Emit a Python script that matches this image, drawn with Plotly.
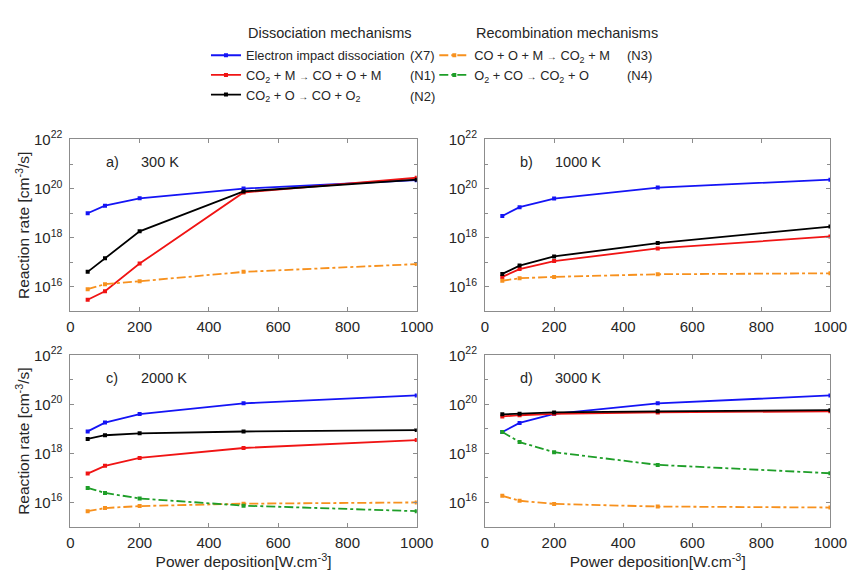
import plotly.graph_objects as go

W, H = 865, 576

power = [50, 100, 200, 500, 1000]
panel_tags = ["a)", "b)", "c)", "d)"]
temps = ["300 K", "1000 K", "2000 K", "3000 K"]

# Reaction rates [cm^-3/s], one list per panel
x7_a = [9.8e18, 2.0e19, 4.0e19, 1.0e20, 2.2e20]
n1_a = [2.9e15, 6.5e15, 8.7e16, 6.9e19, 2.75e20]
n2_a = [4.0e16, 1.45e17, 1.8e18, 7.6e19, 2.3e20]
n3_a = [7.9e15, 1.26e16, 1.66e16, 4.0e16, 8.3e16]
n4_a = None

x7_b = [7.6e18, 1.74e19, 3.9e19, 1.1e20, 2.3e20]
n1_b = [2.5e16, 5.2e16, 1.1e17, 3.6e17, 1.12e18]
n2_b = [3.3e16, 7.2e16, 1.7e17, 6.0e17, 2.8e18]
n3_b = [1.74e16, 2.2e16, 2.5e16, 3.2e16, 3.5e16]
n4_b = None

x7_c = [7.9e18, 1.8e19, 4.0e19, 1.1e20, 2.3e20]
n1_c = [1.5e17, 3.1e17, 6.5e17, 1.66e18, 3.5e18]
n2_c = [3.9e18, 5.5e18, 6.6e18, 7.8e18, 8.9e18]
n3_c = [4.4e15, 5.9e15, 7.1e15, 8.9e15, 1.0e16]
n4_c = [3.9e16, 2.45e16, 1.45e16, 7.4e15, 4.4e15]

x7_d = [7.4e18, 1.74e19, 4.1e19, 1.1e20, 2.3e20]
n1_d = [3.2e19, 3.6e19, 4.1e19, 4.7e19, 5.2e19]
n2_d = [3.9e19, 4.1e19, 4.7e19, 5.2e19, 5.8e19]
n3_d = [1.86e16, 1.17e16, 8.7e15, 6.8e15, 6.2e15]
n4_d = [7.4e18, 2.9e18, 1.12e18, 3.4e17, 1.55e17]

panels = [
    [x7_a, n1_a, n2_a, n3_a, n4_a],
    [x7_b, n1_b, n2_b, n3_b, n4_b],
    [x7_c, n1_c, n2_c, n3_c, n4_c],
    [x7_d, n1_d, n2_d, n3_d, n4_d],
]

ARROW = "<span style='font-size:10px'>\u2192</span>"
series_names = [
    "Electron impact dissociation",
    "CO<sub>2</sub> + M " + ARROW + " CO + O + M",
    "CO<sub>2</sub> + O " + ARROW + " CO + O<sub>2</sub>",
    "CO + O + M " + ARROW + " CO<sub>2</sub> + M",
    "O<sub>2</sub> + CO " + ARROW + " CO<sub>2</sub> + O",
]
series_codes = ["(X7)", "(N1)", "(N2)", "(N3)", "(N4)"]
series_colors = ["#1414f5", "#f01414", "#000000", "#f7911e", "#1e9e28"]
series_dash = ["solid", "solid", "solid", "dashdot", "dashdot"]
series_legend = ["legend", "legend", "legend", "legend2", "legend2"]

ytick_vals = [1e16, 1e18, 1e20, 1e22]
ytick_text = ["10<sup>16</sup>", "10<sup>18</sup>", "10<sup>20</sup>", "10<sup>22</sup>"]
xtick_vals = [0, 200, 400, 600, 800, 1000]

FONT = "Liberation Sans, Arial, sans-serif"
TXT = "#262626"
AX = "#8c8c8c"

# subplot boxes in pixels (left, right, top, bottom)
boxes = [(68, 423, 131, 306), (493, 847, 131, 306),
         (68, 423, 351, 526), (493, 847, 351, 526)]

fig = go.Figure()
shown = set()
for p, data in enumerate(panels):
    ax = "" if p == 0 else str(p + 1)
    for s, ys in enumerate(data):
        if ys is None:
            continue
        show = s not in shown
        shown.add(s)
        fig.add_trace(go.Scatter(
            x=power, y=ys, mode="lines+markers",
            name=series_names[s],
            line=dict(color=series_colors[s], width=1.8, dash=series_dash[s]),
            marker=dict(symbol="square", size=4, color=series_colors[s]),
            xaxis="x" + ax, yaxis="y" + ax,
            showlegend=show, legend=series_legend[s],
        ))

layout = dict(
    width=W, height=H, margin=dict(l=0, r=0, t=0, b=0),
    paper_bgcolor="white", plot_bgcolor="white",
    font=dict(family=FONT, color=TXT, size=14),
)
for p, (l, r, t, b) in enumerate(boxes):
    ax = "" if p == 0 else str(p + 1)
    xk, yk = "xaxis" + ax, "yaxis" + ax
    layout[xk] = dict(
        domain=[l / W, r / W], range=[0, 1000], anchor="y" + ax,
        tickvals=xtick_vals, ticks="inside", ticklen=4, tickcolor=AX,
        showline=True, linecolor=AX, linewidth=1, mirror="ticks",
        showgrid=False, zeroline=False, ticklabelstandoff=2,
        tickfont=dict(size=15, color=TXT),
        title=dict(text="Power deposition[W.cm<sup>-3</sup>]" if p >= 2 else "",
                   font=dict(size=15.5, color=TXT), standoff=4),
    )
    layout[yk] = dict(
        domain=[1 - b / H, 1 - t / H], type="log", range=[15, 22], anchor="x" + ax,
        tickvals=ytick_vals, ticktext=ytick_text, ticks="inside", ticklen=4,
        tickcolor=AX, showline=True, linecolor=AX, linewidth=1, mirror="ticks",
        showgrid=False, zeroline=False, ticklabelstandoff=4,
        tickfont=dict(size=15, color=TXT),
        minor=dict(tickvals=[1e15, 1e17, 1e19, 1e21], ticks="inside", ticklen=3,
                   tickcolor=AX, showgrid=False),
        title=dict(text="Reaction rate [cm<sup>-3</sup>/s]" if p % 2 == 0 else "",
                   font=dict(size=15.5, color=TXT), standoff=0),
    )

annotations = []
for p in range(4):
    ax = "" if p == 0 else str(p + 1)
    annotations.append(dict(text=panel_tags[p], xref="x" + ax + " domain", yref="y" + ax + " domain",
                            x=0.096, y=0.87, xanchor="left", yanchor="middle", showarrow=False,
                            font=dict(size=14.5, color=TXT)))
    annotations.append(dict(text=temps[p], xref="x" + ax + " domain", yref="y" + ax + " domain",
                            x=0.197, y=0.87, xanchor="left", yanchor="middle", showarrow=False,
                            font=dict(size=14.5, color=TXT)))

# legend headers and reaction codes
annotations.append(dict(text="Dissociation mechanisms", xref="paper", yref="paper",
                        x=248 / W, y=1 - 22 / H, xanchor="left", yanchor="middle",
                        showarrow=False, font=dict(size=14.5, color=TXT)))
annotations.append(dict(text="Recombination mechanisms", xref="paper", yref="paper",
                        x=482 / W, y=1 - 22 / H, xanchor="left", yanchor="middle",
                        showarrow=False, font=dict(size=14.5, color=TXT)))
code_pos = [(414, 45), (414, 66), (414, 87), (636, 45), (636, 66)]
for s, (cx, cy) in enumerate(code_pos):
    annotations.append(dict(text=series_codes[s], xref="paper", yref="paper",
                            x=cx / W, y=1 - cy / H, xanchor="left", yanchor="middle",
                            showarrow=False, font=dict(size=13, color=TXT)))
layout["annotations"] = annotations

legend_common = dict(bgcolor="rgba(0,0,0,0)", borderwidth=0, itemwidth=30,
                     font=dict(size=12.8, color=TXT), yanchor="top", xanchor="left",
                     tracegroupgap=0, itemclick=False)
layout["legend"] = dict(legend_common, x=207 / W, y=1 - 30 / H)
layout["legend2"] = dict(legend_common, x=441 / W, y=1 - 30 / H)

fig.update_layout(**layout)
fig.write_html("out.html")
